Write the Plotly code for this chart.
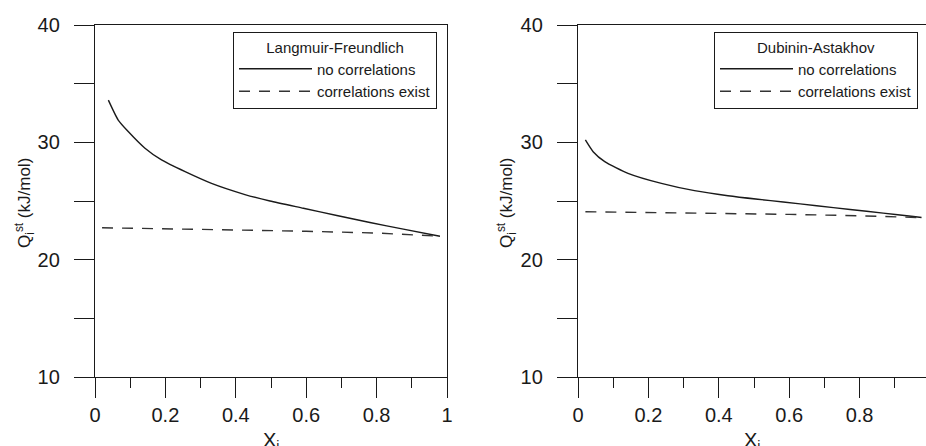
import plotly.graph_objects as go

W, H = 926, 446

# ---------------- data ----------------
lf_x_no = [0.038, 0.066, 0.095, 0.142, 0.189, 0.256, 0.331, 0.426, 0.497, 0.592, 0.687, 0.781, 0.876, 0.98]
lf_y_no = [33.6, 31.9, 30.9, 29.5, 28.5, 27.5, 26.5, 25.55, 25.0, 24.38, 23.76, 23.17, 22.6, 22.0]
lf_x_co = [0.02, 0.2, 0.4, 0.6, 0.8, 0.98]
lf_y_co = [22.72, 22.65, 22.53, 22.42, 22.27, 22.0]

da_x_no = [0.021, 0.043, 0.076, 0.142, 0.237, 0.331, 0.426, 0.511, 0.583, 0.678, 0.773, 0.867, 0.953, 0.976]
da_y_no = [30.2, 29.2, 28.35, 27.36, 26.5, 25.88, 25.45, 25.15, 24.92, 24.6, 24.28, 23.97, 23.68, 23.6]
da_x_co = [0.021, 0.2, 0.4, 0.6, 0.8, 0.976]
da_y_co = [24.09, 24.03, 23.96, 23.86, 23.74, 23.58]

series_names = ["no correlations", "correlations exist"]
legend_titles = ["Langmuir-Freundlich", "Dubinin-Astakhov"]

y_tickvals = [10, 15, 20, 25, 30, 35, 40]
y_ticktext = ["10", "", "20", "", "30", "", "40"]
x_tickvals = [0, 0.2, 0.4, 0.6, 0.8, 1]
x_ticktext = ["0", "0.2", "0.4", "0.6", "0.8", "1"]
x_minorvals = [0.1, 0.3, 0.5, 0.7, 0.9]

FONT = "Liberation Sans, Arial, Helvetica, sans-serif"
INK = "#1a1a1a"

fig = go.Figure()

def add_pair(xs_no, ys_no, xs_co, ys_co, xa, ya, leg):
    fig.add_trace(go.Scatter(x=xs_no, y=ys_no, mode="lines", name=series_names[0],
                             xaxis=xa, yaxis=ya, legend=leg,
                             line=dict(color=INK, width=1.4, shape="spline", smoothing=0.6)))
    fig.add_trace(go.Scatter(x=xs_co, y=ys_co, mode="lines", name=series_names[1],
                             xaxis=xa, yaxis=ya, legend=leg,
                             line=dict(color="#333333", width=1.4, dash="11px,9px")))

add_pair(lf_x_no, lf_y_no, lf_x_co, lf_y_co, "x", "y", "legend")
add_pair(da_x_no, da_y_no, da_x_co, da_y_co, "x2", "y2", "legend2")

# pixel geometry
y_dom = [1 - 377 / H, 1 - 25 / H]
x1_dom = [95 / W, 447 / W]
x2_dom = [578 / W, 1.0]
x2_max = (926 - 578) / 352.0

common_x = dict(tickmode="array", tickvals=x_tickvals, ticktext=x_ticktext,
                ticks="outside", ticklen=20, tickwidth=1.4, tickcolor=INK,
                showline=True, linecolor=INK, linewidth=1.4, showgrid=False, zeroline=False,
                tickfont=dict(family=FONT, size=20, color=INK),
                minor=dict(tickvals=x_minorvals, ticks="outside", ticklen=10,
                           tickwidth=1.4, tickcolor=INK, showgrid=False),
                mirror=True, fixedrange=True, automargin=False)
common_y = dict(tickmode="array", tickvals=y_tickvals, ticktext=y_ticktext, range=[10, 40],
                ticks="outside", ticklen=20, tickwidth=1.4, tickcolor=INK,
                showline=True, linecolor=INK, linewidth=1.4, showgrid=False, zeroline=False,
                tickfont=dict(family=FONT, size=20, color=INK), ticklabelstandoff=10,
                fixedrange=True, automargin=False)

legend_common = dict(bgcolor="white", bordercolor=INK, borderwidth=1,
                     font=dict(family=FONT, size=15, color=INK),
                     itemwidth=73, xanchor="right", yanchor="top", tracegroupgap=0)

fig.update_layout(
    template="none",
    width=W, height=H,
    margin=dict(l=0, r=0, t=0, b=0, autoexpand=False),
    paper_bgcolor="white", plot_bgcolor="white",
    xaxis=dict(domain=x1_dom, range=[0, 1], anchor="y", **common_x),
    yaxis=dict(domain=y_dom, anchor="x", mirror=True, **common_y),
    xaxis2=dict(domain=x2_dom, range=[0, x2_max], anchor="y2", **common_x),
    yaxis2=dict(domain=y_dom, anchor="x2", mirror=False, **common_y),
    legend=dict(x=437 / W, y=1 - 32 / H,
                title=dict(text=legend_titles[0], side="top center",
                           font=dict(family=FONT, size=15, color=INK)),
                **legend_common),
    legend2=dict(x=918 / W, y=1 - 32 / H,
                 title=dict(text=legend_titles[1], side="top center",
                            font=dict(family=FONT, size=15, color=INK)),
                 **legend_common),
    showlegend=True,
)

ytitle = "Q<sub>i</sub><sup>st</sup> (kJ/mol)"
xtitle = "X<sub>i</sub>"
for xc in (24, 506):
    fig.add_annotation(text=ytitle, xref="paper", yref="paper", x=xc / W, y=1 - 203 / H,
                       textangle=-90, showarrow=False, xanchor="center", yanchor="middle",
                       font=dict(family=FONT, size=17, color=INK))
for xc in (271, 752):
    fig.add_annotation(text=xtitle, xref="paper", yref="paper", x=xc / W, y=1 - 427 / H,
                       showarrow=False, xanchor="center", yanchor="top",
                       font=dict(family=FONT, size=20, color=INK))

fig.write_html("out.html", config={"displayModeBar": False})
